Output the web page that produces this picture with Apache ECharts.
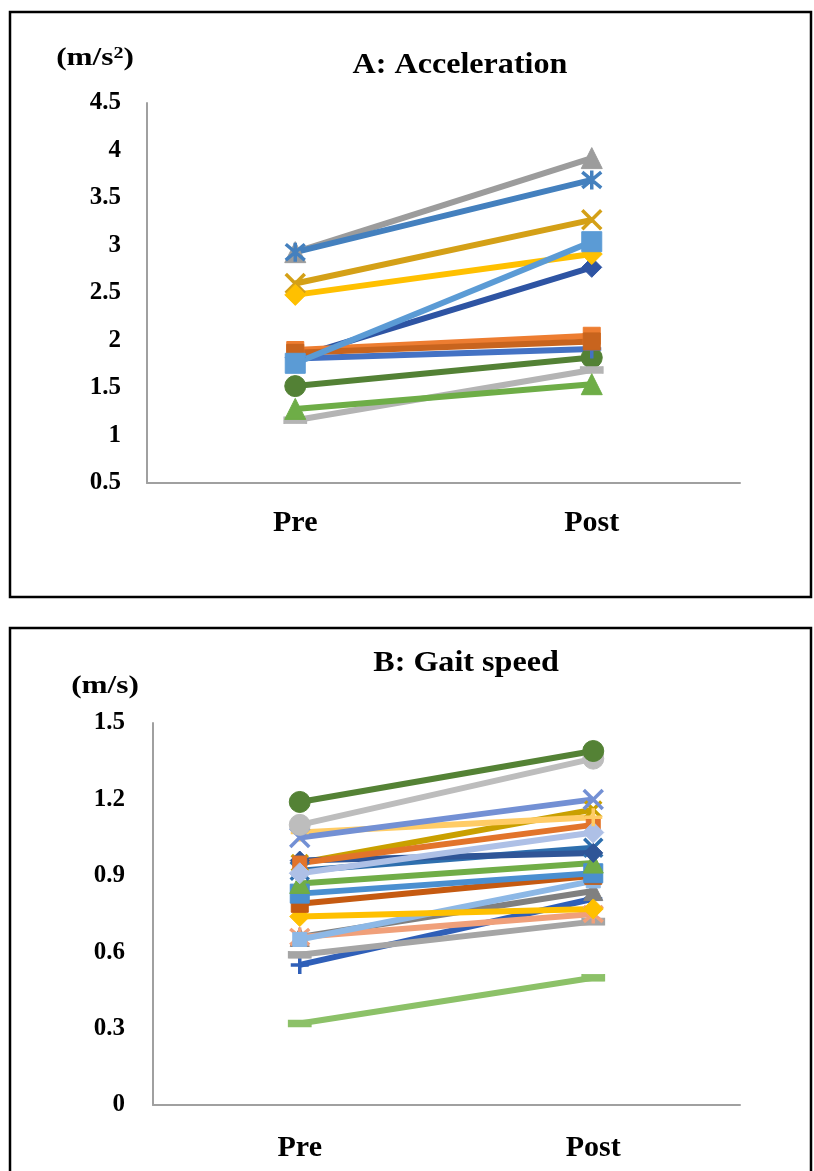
<!DOCTYPE html>
<html>
<head>
<meta charset="utf-8">
<title>Acceleration and gait speed, pre vs post</title>
<script src="https://cdn.jsdelivr.net/npm/echarts@6/dist/echarts.min.js"></script>
<style>
  html, body { margin: 0; padding: 0; background: #ffffff; }
  #chart { width: 814px; height: 1171px; }
</style>
</head>
<body>
<div id="chart"></div>
<script>
// ---- data ----
const categories = ['Pre', 'Post'];

// Panel A: acceleration (m/s^2), one pair per participant
const accelDarkBlue   = [1.82, 2.77];
const accelOrange     = [1.90, 2.05];
const accelGrayTri    = [2.93, 3.92];
const accelDarkGold   = [2.60, 3.27];
const accelSteelStar  = [2.93, 3.69];
const accelGreenDot   = [1.52, 1.82];
const accelBluePlus   = [1.81, 1.91];
const accelGold       = [2.48, 2.91];
const accelDarkOrange = [1.87, 1.99];
const accelLightGray  = [1.16, 1.69];
const accelGreenTri   = [1.28, 1.54];
const accelLightBlue  = [1.76, 3.04];

// Panel B: gait speed (m/s)
const gaitGreenDot    = [1.19, 1.39];
const gaitGrayDot     = [1.10, 1.36];
const gaitPeriX       = [1.05, 1.20];
const gaitLightGold   = [1.07, 1.13];
const gaitDarkBlue    = [0.96, 0.99];
const gaitOrange      = [0.95, 1.10];
const gaitDarkGold    = [0.95, 1.16];
const gaitPaleDiamond = [0.91, 1.07];
const gaitSteelStar   = [0.92, 1.01];
const gaitGreenTri    = [0.87, 0.95];
const gaitBlueSquare  = [0.83, 0.91];
const gaitDarkOrange  = [0.79, 0.90];
const gaitGold        = [0.74, 0.77];
const gaitLightBlue   = [0.65, 0.88];
const gaitSalmon      = [0.66, 0.75];
const gaitDarkGray    = [0.66, 0.84];
const gaitGray        = [0.59, 0.72];
const gaitBluePlus    = [0.55, 0.81];
const gaitLightGreen  = [0.32, 0.50];

const accelTicks = ['0.5', '1', '1.5', '2', '2.5', '3', '3.5', '4', '4.5'];
const gaitTicks  = ['0', '0.3', '0.6', '0.9', '1.2', '1.5'];

// ---- marker shapes ----
const SYM_X    = 'path://M0,0 L10,10 M10,0 L0,10';
const SYM_PLUS = 'path://M5,0 L5,10 M0,5 L10,5';
const SYM_STAR = 'path://M0,0 L10,10 M10,0 L0,10 M5,-1 L5,11';
const DASH = 'rect';
const FONT = '"Liberation Serif", "Times New Roman", serif';

function lineSeries(axisIdx, data, color, symbol, size) {
  const stroked = symbol === SYM_X || symbol === SYM_PLUS || symbol === SYM_STAR;
  return {
    type: 'line',
    xAxisIndex: axisIdx,
    yAxisIndex: axisIdx,
    data: data,
    symbol: symbol,
    symbolSize: size,
    showAllSymbol: true,
    lineStyle: { color: color, width: 6 },
    itemStyle: stroked
      ? { color: 'rgba(0,0,0,0)', borderColor: color, borderWidth: 3.5 }
      : { color: color, borderColor: color, borderWidth: 1 },
    emphasis: { disabled: true },
    animation: false
  };
}

const seriesA = [
  lineSeries(0, accelDarkBlue,   '#2E54A3', 'diamond', 20),
  lineSeries(0, accelOrange,     '#ED7D31', 'rect', 17),
  lineSeries(0, accelGrayTri,    '#9C9C9C', 'triangle', 21),
  lineSeries(0, accelDarkGold,   '#D4A017', SYM_X, 19),
  lineSeries(0, accelSteelStar,  '#4480BE', SYM_STAR, 19),
  lineSeries(0, accelGreenDot,   '#538135', 'circle', 21),
  lineSeries(0, accelBluePlus,   '#4472C4', SYM_PLUS, 19),
  lineSeries(0, accelGold,       '#FFC000', 'diamond', 21),
  lineSeries(0, accelDarkOrange, '#C8641E', 'rect', 17),
  lineSeries(0, accelLightGray,  '#B4B4B4', DASH, [22, 7]),
  lineSeries(0, accelGreenTri,   '#6EAD47', 'triangle', 21),
  lineSeries(0, accelLightBlue,  '#5B9BD5', 'rect', 20)
];

const seriesB = [
  lineSeries(1, gaitLightGreen,  '#8CC168', DASH, [22, 7]),
  lineSeries(1, gaitBluePlus,    '#2F5FB8', SYM_PLUS, 18),
  lineSeries(1, gaitGray,        '#A5A5A5', DASH, [22, 7]),
  lineSeries(1, gaitDarkGray,    '#808080', 'triangle', 19),
  lineSeries(1, gaitSalmon,      '#F0A07A', SYM_STAR, 19),
  lineSeries(1, gaitLightBlue,   '#8DB8E6', 'rect', 14),
  lineSeries(1, gaitGold,        '#FFC000', 'diamond', 20),
  lineSeries(1, gaitDarkOrange,  '#C55A11', 'rect', 17),
  lineSeries(1, gaitBlueSquare,  '#4A8FD0', 'rect', 19),
  lineSeries(1, gaitGreenTri,    '#70AD47', 'triangle', 20),
  lineSeries(1, gaitSteelStar,   '#2E6FAE', SYM_X, 18),
  lineSeries(1, gaitDarkGold,    '#C9A000', SYM_X, 16),
  lineSeries(1, gaitDarkBlue,    '#2F5597', 'diamond', 19),
  lineSeries(1, gaitOrange,      '#E2742A', 'rect', 14),
  lineSeries(1, gaitPaleDiamond, '#AEC0E6', 'diamond', 21),
  lineSeries(1, gaitLightGold,   '#FFCC66', SYM_PLUS, 18),
  lineSeries(1, gaitPeriX,       '#7390D4', SYM_X, 19),
  lineSeries(1, gaitGrayDot,     '#BDBDBD', 'circle', 21),
  lineSeries(1, gaitGreenDot,    '#548235', 'circle', 21)
];

function valueAxis(gridIndex, ticks, margin) {
  const vals = ticks.map(Number);
  return {
    type: 'value',
    gridIndex: gridIndex,
    min: vals[0],
    max: vals[vals.length - 1],
    interval: vals[1] - vals[0],
    axisLine: { show: true, lineStyle: { color: '#A0A0A0', width: 2 } },
    axisTick: { show: false },
    splitLine: { show: false },
    axisLabel: {
      margin: margin,
      color: '#000',
      fontFamily: FONT,
      fontWeight: 'bold',
      fontSize: 25,
      formatter: function (v) {
        const i = vals.findIndex(t => Math.abs(t - v) < 1e-6);
        return i >= 0 ? ticks[i] : '';
      }
    }
  };
}

function catAxis(gridIndex, margin) {
  return {
    type: 'category',
    gridIndex: gridIndex,
    data: categories,
    boundaryGap: true,
    axisLine: { show: true, lineStyle: { color: '#A0A0A0', width: 2 } },
    axisTick: { show: false },
    axisLabel: {
      margin: margin,
      color: '#000',
      fontFamily: FONT,
      fontWeight: 'bold',
      fontSize: 30
    }
  };
}

function caption(x, y, text, size, stretch) {
  return {
    type: 'text', x: x, y: y, scaleX: stretch, silent: true,
    style: {
      text: text, fill: '#000', font: 'bold ' + size + 'px ' + FONT,
      textAlign: 'center', textVerticalAlign: 'middle',
      rich: { sup: { font: 'bold ' + Math.round(size * 0.62) + 'px ' + FONT,
                     verticalAlign: 'top', padding: [0, 0, 10, 0] } }
    }
  };
}

const chart = echarts.init(document.getElementById('chart'), null, { renderer: 'canvas' });

chart.setOption({
  backgroundColor: '#ffffff',
  animation: false,
  grid: [
    { left: 147, top: 103, width: 593, height: 380 },
    { left: 153, top: 723, width: 587, height: 382 }
  ],
  xAxis: [catAxis(0, 25), catAxis(1, 28)],
  yAxis: [valueAxis(0, accelTicks, 26), valueAxis(1, gaitTicks, 28)],
  series: seriesA.concat(seriesB),
  graphic: [
    // panel frames
    { type: 'rect', shape: { x: 10, y: 12, width: 801, height: 585 },
      style: { fill: 'none', stroke: '#000', lineWidth: 2.5 }, silent: true },
    { type: 'rect', shape: { x: 10, y: 628, width: 801, height: 600 },
      style: { fill: 'none', stroke: '#000', lineWidth: 2.5 }, silent: true },
    // titles and units
    caption(460, 65, 'A: Acceleration', 30, 1.07),
    caption(95, 59, '(m/s{sup|2})', 25, 1.25),
    caption(466, 663, 'B: Gait speed', 30, 1.07),
    caption(105, 687, '(m/s)', 25, 1.25)
  ]
});
</script>
</body>
</html>
